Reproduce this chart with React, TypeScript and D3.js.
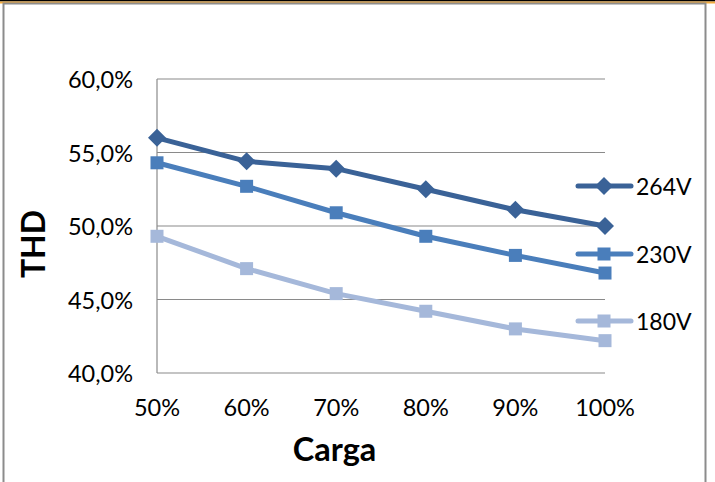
import React from "react";
import * as d3 from "d3";

const categories = ["50%", "60%", "70%", "80%", "90%", "100%"];
const seriesNames = ["264V", "230V", "180V"];
const v264 = [56.0, 54.4, 53.9, 52.5, 51.1, 50.0];
const v230 = [54.3, 52.7, 50.9, 49.3, 48.0, 46.8];
const v180 = [49.3, 47.1, 45.4, 44.2, 43.0, 42.2];
const yTicks = [40, 45, 50, 55, 60];
const colors = ["#3A6297", "#4A7EBB", "#A5B8DA"];
const markers = ["diamond", "square", "square"];
const legendY = [186, 254, 321];

const W = 715;
const H = 482;
const FONT = "Lato, 'Open Sans', sans-serif";

export default function App() {
  const x = d3.scalePoint<string>().domain(categories).range([157, 605]);
  const y = d3.scaleLinear().domain([40, 60]).range([373, 79]);
  const data = [v264, v230, v180];
  const line = d3
    .line<number>()
    .x((_, i) => x(categories[i]) as number)
    .y((d) => y(d));
  const fmt = (v: number) => v.toFixed(1).replace(".", ",") + "%";

  const marker = (type: string, cx: number, cy: number, color: string, key: string) =>
    type === "diamond" ? (
      <path
        key={key}
        d={`M${cx},${cy - 9} L${cx + 9},${cy} L${cx},${cy + 9} L${cx - 9},${cy} Z`}
        fill={color}
      />
    ) : (
      <rect key={key} x={cx - 6.5} y={cy - 6.5} width={13} height={13} fill={color} />
    );

  return (
    <svg
      width={W}
      height={H}
      style={{ position: "absolute", left: 0, top: 0, background: "#fff" }}
      fontFamily={FONT}
    >
      <rect x={0} y={0} width={W} height={1.5} fill="#000" />
      <rect x={0} y={1.5} width={W} height={2} fill="#F2A93B" />
      <path d={`M3.5,${H} V3.5 H705.5 V${H}`} fill="none" stroke="#8c8c8c" strokeWidth={2} />
      {yTicks.map((t) => (
        <g key={t}>
          <line x1={157} x2={605} y1={y(t)} y2={y(t)} stroke="#8a8a8a" strokeWidth={1.2} />
          <text x={133} y={y(t) + 9} textAnchor="end" fontSize={23.5} fill="#000">
            {fmt(t)}
          </text>
        </g>
      ))}
      <line x1={157} x2={157} y1={79} y2={373} stroke="#8a8a8a" strokeWidth={1.2} />
      {categories.map((c) => (
        <text key={c} x={x(c)} y={416} textAnchor="middle" fontSize={23.5} fill="#000">
          {c}
        </text>
      ))}
      {data.map((vals, si) => (
        <g key={si}>
          <path d={line(vals) || ""} fill="none" stroke={colors[si]} strokeWidth={5} strokeLinejoin="round" />
          {vals.map((v, i) => marker(markers[si], x(categories[i]) as number, y(v), colors[si], `${si}-${i}`))}
        </g>
      ))}
      {seriesNames.map((n, si) => (
        <g key={n}>
          <line x1={578} x2={631} y1={legendY[si]} y2={legendY[si]} stroke={colors[si]} strokeWidth={5} strokeLinecap="round" />
          {marker(markers[si], 604, legendY[si], colors[si], "lm" + si)}
          <text x={636} y={legendY[si] + 9} fontSize={23} fill="#000">
            {n}
          </text>
        </g>
      ))}
      <text
        transform="translate(45,244) rotate(-90)"
        textAnchor="middle"
        fontSize={32}
        fontWeight="bold"
        fill="#000"
      >
        THD
      </text>
      <text x={334.5} y={461} textAnchor="middle" fontSize={32.5} fontWeight="bold" fill="#000">
        Carga
      </text>
    </svg>
  );
}
